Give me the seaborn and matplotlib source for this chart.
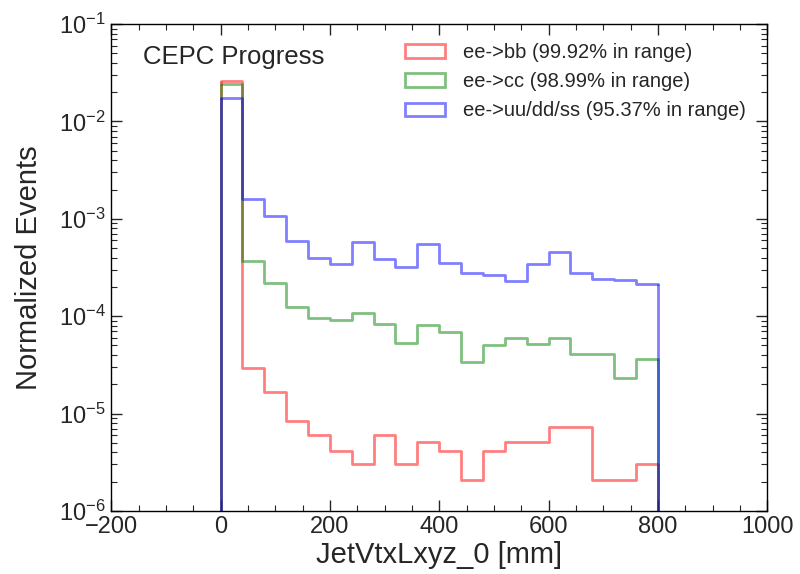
import numpy as np
import pandas as pd
import matplotlib
matplotlib.use("Agg")
import matplotlib.pyplot as plt
import seaborn as sns
from matplotlib.patches import Patch
from matplotlib.ticker import MultipleLocator, LogLocator, NullFormatter

# ---- data ----
bin_edges = [0, 40, 80, 120, 160, 200, 240, 280, 320, 360, 400,
             440, 480, 520, 560, 600, 640, 680, 720, 760, 800]
bb_vals = [2.6e-2, 2.96e-5, 1.67e-5, 8.3e-6, 6.0e-6, 4.1e-6, 3.0e-6, 6.0e-6, 3.0e-6, 5.1e-6,
           4.1e-6, 2.08e-6, 4.1e-6, 5.1e-6, 5.1e-6, 7.2e-6, 7.2e-6, 2.08e-6, 2.08e-6, 3.0e-6]
cc_vals = [2.4e-2, 3.7e-4, 2.2e-4, 1.23e-4, 9.5e-5, 9.1e-5, 1.07e-4, 8.3e-5, 5.35e-5, 8.1e-5,
           6.8e-5, 3.4e-5, 5.0e-5, 6.0e-5, 5.2e-5, 6.0e-5, 4.07e-5, 4.07e-5, 2.34e-5, 3.65e-5]
uds_vals = [1.75e-2, 1.6e-3, 1.07e-3, 5.9e-4, 4.0e-4, 3.4e-4, 5.75e-4, 3.87e-4, 3.2e-4, 5.5e-4,
            3.55e-4, 2.75e-4, 2.65e-4, 2.32e-4, 3.41e-4, 4.6e-4, 2.75e-4, 2.4e-4, 2.34e-4, 2.14e-4]
labels = ["ee->bb (99.92% in range)", "ee->cc (98.99% in range)",
          "ee->uu/dd/ss (95.37% in range)"]
colors = ["red", "green", "blue"]

centers = [(a + b) / 2 for a, b in zip(bin_edges[:-1], bin_edges[1:])]
frames = []
for lab, vals in zip(labels, [bb_vals, cc_vals, uds_vals]):
    frames.append(pd.DataFrame({"x": centers, "w": vals, "process": lab}))
df = pd.concat(frames, ignore_index=True)

# ---- style ----
sns.set_style("ticks")
plt.rcParams["font.family"] = ["Liberation Sans", "DejaVu Sans"]
plt.rcParams["mathtext.fontset"] = "custom"
plt.rcParams["mathtext.rm"] = "Liberation Sans"
plt.rcParams["mathtext.it"] = "Liberation Sans:italic"
plt.rcParams["mathtext.bf"] = "Liberation Sans:bold"
plt.rcParams["axes.edgecolor"] = "black"
plt.rcParams["axes.linewidth"] = 1.0

fig = plt.figure(figsize=(8.0, 5.74), dpi=100)
ax = fig.add_axes([0.139, 0.110, 0.820, 0.848])

ymin = 1e-6
for lab, col in zip(labels, colors):
    sub = df[df["process"] == lab]
    sns.histplot(data=sub, x="x", weights="w", bins=bin_edges, element="step",
                 fill=False, color=col, alpha=0.5, linewidth=2, ax=ax, legend=False)
    vals = sub["w"].to_numpy()
    ax.vlines([bin_edges[0], bin_edges[-1]], ymin, [vals[0], vals[-1]],
              colors=col, alpha=0.5, linewidth=2)

ax.set_yscale("log")
ax.set_xlim(-200, 1000)
ax.set_ylim(1e-6, 1e-1)
ax.xaxis.set_major_locator(MultipleLocator(200))
ax.xaxis.set_minor_locator(MultipleLocator(50))
ax.yaxis.set_major_locator(LogLocator(base=10))
ax.yaxis.set_minor_locator(LogLocator(base=10, subs=np.arange(2, 10)))
ax.yaxis.set_minor_formatter(NullFormatter())
ax.tick_params(which="both", direction="in", top=True, right=True, labelsize=17, pad=4)
ax.tick_params(which="major", length=8, width=1)
ax.tick_params(which="minor", length=4, width=0.8)

ax.set_xlabel("JetVtxLxyz_0 [mm]", fontsize=21, labelpad=2)
ax.set_ylabel("Normalized Events", fontsize=21, labelpad=11)

ax.text(0.049, 0.932, "CEPC Progress", transform=ax.transAxes, fontsize=18.5,
        ha="left", va="center")

handles = [Patch(facecolor="none", edgecolor=c, alpha=0.5, linewidth=2) for c in colors]
ax.legend(handles, labels, loc="upper right", bbox_to_anchor=(0.995, 0.998),
          frameon=False, fontsize=14.5, handlelength=2.0, handleheight=0.65,
          labelspacing=0.5, handletextpad=0.9)

fig.savefig("out.png", dpi=100)
